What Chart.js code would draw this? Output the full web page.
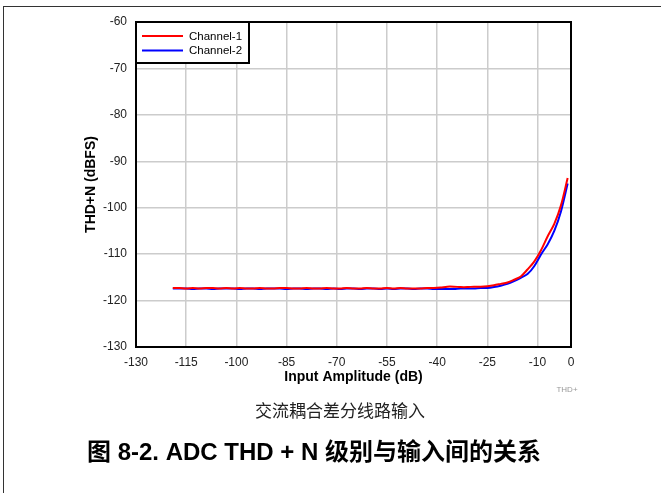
<!DOCTYPE html>
<html>
<head>
<meta charset="utf-8">
<script src="https://cdn.jsdelivr.net/npm/chart.js@4/dist/chart.umd.min.js"></script>
<style>
  html, body { margin: 0; padding: 0; background: #fff; }
  #wrap { position: relative; width: 661px; height: 493px; overflow: hidden; }
  #frame { position: absolute; left: 3px; top: 6px; width: 700px; height: 600px;
           border-top: 1.5px solid #333; border-left: 1.5px solid #333; }
  #chart { position: absolute; left: 0; top: 0; }
  .sub { position: absolute; left: 170px; width: 340px; text-align: center; top: 397px;
         font-family: "Noto Sans CJK SC", "Liberation Sans", sans-serif; font-size: 17px; color: #222; }
  .cap { position: absolute; left: 0; width: 628px; text-align: center; top: 436px;
         font-family: "Liberation Sans", "Noto Sans CJK SC", sans-serif; font-weight: bold; font-size: 24px; line-height: 32px; color: #000; }
</style>
</head>
<body>
<div id="wrap">
  <div id="frame"></div>
  <canvas id="chart" width="661" height="493"></canvas>
  <div class="sub">交流耦合差分线路输入</div>
  <div class="cap">图 8-2. ADC THD + N 级别与输入间的关系</div>
</div>
<script>
// Input amplitude sweep (dB)
const amplitude = [-119,-117,-115,-113,-111,-109,-107,-105,-103,-101,-99,-97,-95,-93,-91,-89,-87,-85,-83,-81,-79,
  -77,-75,-73,-71,-69,-67,-65,-63,-61,-59,-57,-55,-53,-51,-49,-47,-45,-43,-41,-39,
  -37,-35,-33,-31,-29,-27,-25,-23,-21,-19,-17,-15,-13,-11,-9,-7,-5,-3,-1];

// THD+N (dBFS) per channel
const channel1 = [-117.3,-117.3,-117.4,-117.3,-117.4,-117.3,-117.3,-117.4,-117.3,-117.4,-117.3,-117.4,-117.4,-117.3,-117.4,-117.4,-117.3,-117.3,-117.4,-117.4,-117.3,
  -117.4,-117.4,-117.3,-117.4,-117.4,-117.3,-117.4,-117.4,-117.3,-117.4,-117.4,-117.3,-117.4,-117.3,-117.4,-117.4,-117.4,-117.3,-117.3,-117.2,
  -117.0,-117.0,-117.1,-117.1,-117.0,-117.0,-116.9,-116.7,-116.4,-116.1,-115.5,-114.8,-113.3,-111.6,-109.2,-106.2,-103.5,-99.5,-93.6];
const channel2 = [-117.4,-117.4,-117.4,-117.5,-117.4,-117.4,-117.5,-117.4,-117.4,-117.4,-117.5,-117.4,-117.4,-117.5,-117.4,-117.4,-117.4,-117.5,-117.4,-117.4,-117.5,
  -117.4,-117.4,-117.5,-117.4,-117.5,-117.4,-117.4,-117.5,-117.4,-117.4,-117.5,-117.4,-117.5,-117.4,-117.4,-117.5,-117.4,-117.4,-117.5,-117.5,
  -117.5,-117.5,-117.4,-117.4,-117.4,-117.3,-117.3,-117.1,-116.8,-116.4,-115.8,-115.1,-114.3,-112.6,-110.1,-107.9,-105.0,-100.8,-94.8];

const seriesNames = ['Channel-1', 'Channel-2'];
const seriesColors = ['#ff0000', '#0000ff'];

const xTicks = [-130, -115, -100, -85, -70, -55, -40, -25, -10, 0];
const yTicks = [-130, -120, -110, -100, -90, -80, -70, -60];

const xTitle = 'Input Amplitude (dB)';
const yTitle = 'THD+N (dBFS)';
const cornerTag = 'THD+';

const toPoints = ys => amplitude.map((x, i) => ({ x: x, y: ys[i] }));

// Plot frame, axis titles and inset legend
const decorations = {
  id: 'decorations',
  afterDraw(chart) {
    const { ctx, chartArea: a } = chart;
    ctx.save();
    ctx.strokeStyle = '#000';
    ctx.lineWidth = 2;
    ctx.strokeRect(a.left, a.top, a.right - a.left, a.bottom - a.top);

    ctx.fillStyle = '#000';
    ctx.font = 'bold 14px "Liberation Sans", Arial, sans-serif';
    ctx.textAlign = 'center';
    ctx.textBaseline = 'middle';
    ctx.fillText(xTitle, (a.left + a.right) / 2, 377);
    ctx.save();
    ctx.translate(91, (a.top + a.bottom) / 2);
    ctx.rotate(-Math.PI / 2);
    ctx.fillText(yTitle, 0, 0);
    ctx.restore();

    ctx.fillStyle = '#999';
    ctx.font = '8px "Liberation Sans", Arial, sans-serif';
    ctx.fillText(cornerTag, 567, 390);

    // legend box
    const lx = a.left, ly = a.top, lw = 113, lh = 41;
    ctx.fillStyle = '#fff';
    ctx.fillRect(lx, ly, lw, lh);
    ctx.strokeStyle = '#000';
    ctx.lineWidth = 2;
    ctx.strokeRect(lx, ly, lw, lh);
    ctx.font = '11.5px "Liberation Sans", Arial, sans-serif';
    ctx.textAlign = 'left';
    chart.data.datasets.forEach((ds, i) => {
      const yy = ly + 14 + i * 14.5;
      ctx.strokeStyle = ds.borderColor;
      ctx.lineWidth = 2;
      ctx.beginPath();
      ctx.moveTo(lx + 6, yy);
      ctx.lineTo(lx + 47, yy);
      ctx.stroke();
      ctx.fillStyle = '#000';
      ctx.fillText(ds.label, lx + 53, yy + 0.5);
    });
    ctx.restore();
  }
};

new Chart(document.getElementById('chart'), {
  type: 'line',
  data: {
    datasets: [channel1, channel2].map((ys, i) => ({
      label: seriesNames[i],
      data: toPoints(ys),
      borderColor: seriesColors[i],
      backgroundColor: seriesColors[i],
      borderWidth: 2,
      pointRadius: 0,
      tension: 0.3,
      fill: false
    }))
  },
  options: {
    responsive: false,
    animation: false,
    devicePixelRatio: 1,
    layout: { padding: { left: 0, top: 22, right: 90, bottom: 106 } },
    plugins: { legend: { display: false }, tooltip: { enabled: false } },
    scales: {
      x: {
        type: 'linear',
        min: -130, max: 0,
        afterFit(s) { s.height = 40; },
        afterBuildTicks(s) { s.ticks = xTicks.map(v => ({ value: v })); },
        grid: { color: '#cccccc', lineWidth: 1.5, drawTicks: false },
        border: { display: false },
        ticks: { padding: 8, color: '#222', font: { family: '"Liberation Sans", Arial, sans-serif', size: 12 },
                 maxRotation: 0, autoSkip: false }
      },
      y: {
        type: 'linear',
        min: -130, max: -60,
        afterFit(s) { s.width = 136; },
        afterBuildTicks(s) { s.ticks = yTicks.map(v => ({ value: v })); },
        grid: { color: '#cccccc', lineWidth: 1.5, drawTicks: false },
        border: { display: false },
        ticks: { padding: 9, color: '#222', font: { family: '"Liberation Sans", Arial, sans-serif', size: 12 } }
      }
    }
  },
  plugins: [decorations]
});
</script>
</body>
</html>
